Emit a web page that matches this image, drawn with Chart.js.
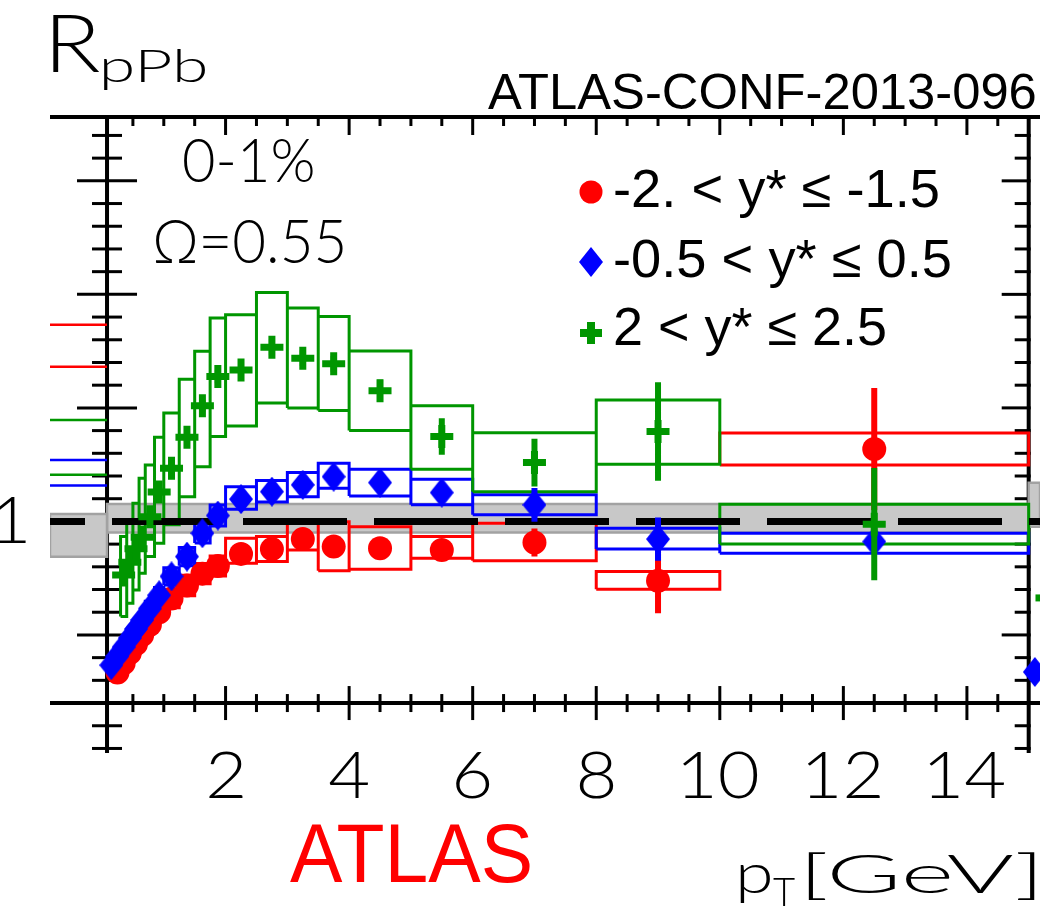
<!DOCTYPE html>
<html>
<head>
<meta charset="utf-8">
<script src="https://cdn.jsdelivr.net/npm/chart.js@4/dist/chart.umd.min.js"></script>
<style>
html,body{margin:0;padding:0;background:#fff;}
#wrap{position:relative;width:1040px;height:915px;}
canvas{display:block;}
</style>
</head>
<body>
<div id="wrap"><canvas id="c" width="1040" height="915"></canvas></div>
<script>
// ---------------- data ----------------
const binLo    = [0.1,0.2,0.3,0.4,0.5,0.6,0.7,0.85,1.0,1.25,1.5,1.75,2.0,2.5,3.0,3.5,4.0,5.0,6.0,8.0,10.0];
const binHi    = [0.2,0.3,0.4,0.5,0.6,0.7,0.85,1.0,1.25,1.5,1.75,2.0,2.5,3.0,3.5,4.0,5.0,6.0,8.0,10.0,15.0];
const ptCenter = [0.15,0.25,0.35,0.45,0.55,0.65,0.775,0.925,1.125,1.375,1.625,1.875,2.25,2.75,3.25,3.75,4.5,5.5,7,9,12.5];

// -2 < y* <= -1.5 (red circles)
const redVal   = [null,0.335,0.375,0.42,0.46,0.50,0.545,0.60,0.66,0.718,0.77,0.804,0.857,0.878,0.922,0.889,0.882,0.874,0.907,0.739,1.319];
const redStat  = [null,0.01,0.01,0.01,0.01,0.01,0.01,0.01,0.01,0.015,0.015,0.015,0.02,0.02,0.02,0.02,0.03,0.03,0.062,0.144,0.269];
const redSysLo = [null,0.30,0.34,0.385,0.425,0.465,0.51,0.565,0.62,0.673,0.725,0.76,0.816,0.823,0.874,0.783,0.789,0.838,0.827,0.701,1.249];
const redSysHi = [null,0.37,0.41,0.455,0.495,0.535,0.58,0.635,0.70,0.763,0.815,0.848,0.926,0.933,0.992,0.999,0.977,0.933,0.992,0.779,1.389];

// -0.5 < y* <= 0.5 (blue diamonds)
const blueVal   = [0.367,0.407,0.446,0.486,0.526,0.566,0.616,0.675,0.758,0.845,0.948,1.026,1.098,1.131,1.161,1.197,1.171,1.127,1.073,0.922,0.911];
const blueStat  = [0.01,0.01,0.01,0.01,0.01,0.01,0.01,0.01,0.01,0.015,0.015,0.015,0.02,0.02,0.02,0.02,0.02,0.03,0.074,0.095,0.045];
const blueSysLo = [0.34,0.38,0.418,0.457,0.496,0.535,0.584,0.641,0.72,0.805,0.905,0.98,1.054,1.085,1.109,1.146,1.112,1.073,1.029,0.878,0.86];
const blueSysHi = [0.394,0.434,0.474,0.515,0.556,0.597,0.648,0.709,0.796,0.885,0.991,1.072,1.153,1.18,1.215,1.256,1.23,1.186,1.117,0.97,0.948];

// 2 < y* <= 2.5 (green crosses)
const greenVal   = [null,null,0.764,0.82,0.88,0.93,1.02,1.13,1.234,1.371,1.509,1.638,1.667,1.767,1.719,1.694,1.576,1.374,1.259,1.396,0.988];
const greenStat  = [null,null,0.02,0.02,0.02,0.02,0.02,0.02,0.02,0.025,0.025,0.03,0.03,0.035,0.035,0.035,0.048,0.08,0.105,0.217,0.247];
const greenSysLo = [null,null,0.581,0.640,0.698,0.772,0.845,0.904,0.985,1.109,1.241,1.374,1.42,1.522,1.5,1.488,1.4,1.23,1.131,1.252,0.9];
const greenSysHi = [null,null,0.933,1.006,1.08,1.19,1.249,1.371,1.477,1.626,1.75,1.896,1.91,2.008,1.94,1.902,1.751,1.509,1.391,1.535,1.076];

// normalisation band and reference line
const bandX     = [0.081, 15.0];
const bandRange = [0.951, 1.077];
const refLine   = 1.0;

// pieces of the neighbouring panel that show at the figure edges
const ovLeftX       = [-0.842, 0.081];
const ovRedLevels   = [1.866, 1.681];
const ovGreenLevels = [1.447, 1.205];
const ovBlueLevels  = [1.271, 1.158];
const ovBandLeft    = [0.844, 1.033];
const ovRightX      = [15.0, 15.183];
const ovBandRight   = [0.976, 1.17];
const ovBlueX = [15.1],  ovBlueY = [0.337];
const ovGreenX = [15.11, 15.183], ovGreenY = [0.663];

// axes and ticks
const xRange = [-0.842, 15.183];
const yRange = [-0.02, 2.79];
const xAxisLeft = 0.081, xAxisRight = 15.0, yAxisBottom = 0.2;
const xMajorTicks = [2,4,6,8,10,12,14];
const xTickLabels = ['2','4','6','8','10','12','14'];
const xMinorTicks = [0.5,1,1.5,2.5,3,3.5,4.5,5,5.5,6.5,7,7.5,8.5,9,9.5,10.5,11,11.5,12.5,13,13.5,14.5];
const yMajorTicks = [0.5,1,1.5,2,2.5];
const yMinorTicks = [0,0.1,0.2,0.3,0.4,0.6,0.7,0.8,0.9,1.1,1.2,1.3,1.4,1.6,1.7,1.8,1.9,2.1,2.2,2.3,2.4,2.6,2.7];
const yLabelTicks = [1];
const yTickLabels = ['1'];

const legendLabels = ['-2. < y* \u2264 -1.5', '-0.5 < y* \u2264 0.5', '2 < y* \u2264 2.5'];
const RED = '#ff0000', BLUE = '#0000ff', GREEN = '#009600';

// ---------------- build datasets ----------------
function boxData(val, lo, hi) {
  const d = [];
  val.forEach((v, i) => {
    if (v == null) return;
    const a = binLo[i], b = binHi[i];
    d.push({x:a,y:lo[i]},{x:a,y:hi[i]},{x:b,y:hi[i]},{x:b,y:lo[i]},{x:a,y:lo[i]},{x:b,y:null});
  });
  return d;
}
function errData(val, err) {
  const d = [];
  val.forEach((v, i) => {
    if (v == null) return;
    d.push({x:ptCenter[i],y:v-err[i]},{x:ptCenter[i],y:v+err[i]},{x:ptCenter[i],y:null});
  });
  return d;
}
function ptData(val) {
  const d = [];
  val.forEach((v, i) => { if (v != null) d.push({x:ptCenter[i], y:v}); });
  return d;
}
function hSegs(xs, levels) {
  const d = [];
  levels.forEach(l => d.push({x:xs[0],y:l},{x:xs[1],y:l},{x:xs[1],y:null}));
  return d;
}
function rectPoly(xs, ys) {
  return [{x:xs[0],y:ys[0]},{x:xs[0],y:ys[1]},{x:xs[1],y:ys[1]},{x:xs[1],y:ys[0]},{x:xs[0],y:ys[0]}];
}
function makeDiamond(w, h, color) {
  const c = document.createElement('canvas');
  c.width = w; c.height = h;
  const g = c.getContext('2d');
  g.fillStyle = color;
  g.beginPath(); g.moveTo(w/2,0); g.lineTo(w,h/2); g.lineTo(w/2,h); g.lineTo(0,h/2); g.closePath(); g.fill();
  return c;
}
const diamond = makeDiamond(24, 30, BLUE);

const lineDs = (data, color, width, order, extra) => Object.assign({
  data, showLine: true, borderColor: color, borderWidth: width, pointRadius: 0, pointHoverRadius: 0,
  fill: false, tension: 0, spanGaps: false, borderJoinStyle: 'miter', order
}, extra || {});

const datasets = [
  // bands
  lineDs([{x:bandX[0],y:bandRange[1]},{x:bandX[1],y:bandRange[1]}], 'rgba(0,0,0,0)', 0, 100,
         {fill: {value: bandRange[0]}, backgroundColor: '#c8c8c8'}),
  lineDs(rectPoly(bandX, bandRange), '#a2a2a2', 2.5, 99),
  lineDs([{x:ovLeftX[0],y:ovBandLeft[1]},{x:ovLeftX[1],y:ovBandLeft[1]}], 'rgba(0,0,0,0)', 0, 98,
         {fill: {value: ovBandLeft[0]}, backgroundColor: '#c8c8c8'}),
  lineDs(rectPoly(ovLeftX, ovBandLeft), '#a2a2a2', 2.5, 97),
  lineDs([{x:ovRightX[0],y:ovBandRight[1]},{x:ovRightX[1],y:ovBandRight[1]}], 'rgba(0,0,0,0)', 0, 98,
         {fill: {value: ovBandRight[0]}, backgroundColor: '#c8c8c8'}),
  lineDs(rectPoly(ovRightX, ovBandRight), '#a2a2a2', 2.5, 97),
  // neighbouring-panel stubs
  lineDs(hSegs(ovLeftX, ovRedLevels), RED, 2.5, 90),
  lineDs(hSegs(ovLeftX, ovGreenLevels), GREEN, 2.5, 90),
  lineDs(hSegs(ovLeftX, ovBlueLevels), BLUE, 2.5, 90),
  lineDs([{x:ovGreenX[0],y:ovGreenY[0]},{x:ovGreenX[1],y:ovGreenY[0]}], GREEN, 7, 90),
  {data: ovBlueX.map((x,i)=>({x, y: ovBlueY[i]})), pointStyle: diamond, pointRadius: 12, order: 90},
  // systematic boxes
  lineDs(boxData(redVal, redSysLo, redSysHi), RED, 3, 60),
  lineDs(boxData(blueVal, blueSysLo, blueSysHi), BLUE, 3, 59),
  lineDs(boxData(greenVal, greenSysLo, greenSysHi), GREEN, 3, 58),
  // reference line
  lineDs([{x:xRange[0],y:refLine},{x:xRange[1],y:refLine}], '#000', 7, 50,
         {borderDash: [104, 27], borderDashOffset: 69, borderCapStyle: 'butt'}),
  // red
  lineDs(errData(redVal, redStat), RED, 6, 30),
  {data: ptData(redVal), pointStyle: 'circle', pointRadius: 12, backgroundColor: RED, borderWidth: 0, order: 29},
  // blue
  lineDs(errData(blueVal, blueStat), BLUE, 6, 28),
  {data: ptData(blueVal), pointStyle: diamond, pointRadius: 12, order: 27},
  // green
  lineDs(errData(greenVal, greenStat), GREEN, 6, 26),
  {data: ptData(greenVal), pointStyle: 'cross', pointRadius: 11.5, borderColor: GREEN, borderWidth: 7, order: 25}
];

// ---------------- axes drawn from the scales ----------------
const axesPlugin = {
  id: 'frameAxes',
  beforeDatasetsDraw(chart) {
    const {ctx, chartArea, scales: {x, y}} = chart;
    const X = v => x.getPixelForValue(v), Y = v => y.getPixelForValue(v);
    ctx.save();
    ctx.strokeStyle = '#000';
    ctx.lineCap = 'butt';
    const seg = (x1,y1,x2,y2,w) => { ctx.lineWidth = w; ctx.beginPath(); ctx.moveTo(x1,y1); ctx.lineTo(x2,y2); ctx.stroke(); };
    const top = Y(yRange[1]) + 2, bot = Y(yRange[0]);
    const xl = X(xAxisLeft), xr = X(xAxisRight), yb = Y(yAxisBottom);
    seg(chartArea.left, top, chartArea.right, top, 4);
    seg(chartArea.left, yb, chartArea.right, yb, 4);
    seg(xl, top - 2, xl, bot, 4);
    seg(xr, top - 2, xr, bot, 4);
    xMinorTicks.forEach(v => { const p = X(v); seg(p, yb-9, p, yb+9, 3); seg(p, top, p, top+9, 3); });
    xMajorTicks.forEach(v => { const p = X(v); seg(p, yb-17, p, yb+17, 3); seg(p, top, p, top+18, 3); });
    yMinorTicks.forEach(v => { const p = Y(v); seg(xl-15, p, xl+15, p, 3); seg(xr-14, p, xr+2, p, 3); });
    yMajorTicks.forEach(v => { const p = Y(v); seg(xl-30, p, xl+30, p, 3); seg(xr-27, p, xr+2, p, 3); });
    ctx.restore();
  }
};

function inkText(ctx, text, x0, baseline, font, color, inkWidth) {
  ctx.save();
  ctx.font = font; ctx.fillStyle = color; ctx.textAlign = 'left'; ctx.textBaseline = 'alphabetic';
  const m = ctx.measureText(text);
  const w = m.actualBoundingBoxLeft + m.actualBoundingBoxRight;
  const s = inkWidth ? inkWidth / w : 1;
  ctx.translate(x0, baseline); ctx.scale(s, 1);
  ctx.fillText(text, m.actualBoundingBoxLeft, 0);
  ctx.restore();
}

const THIN = '300 66px Lato, "DejaVu Sans", sans-serif';
const textPlugin = {
  id: 'texts',
  afterDraw(chart) {
    const {ctx, scales: {x, y}} = chart;
    ctx.save(); ctx.font = THIN;
    const m2 = ctx.measureText('2');
    const sc = 34 / (m2.actualBoundingBoxLeft + m2.actualBoundingBoxRight);
    ctx.restore();
    const labelAt = (t, cx, base) => {
      ctx.save(); ctx.font = THIN;
      const m = ctx.measureText(t);
      const w = (m.actualBoundingBoxLeft + m.actualBoundingBoxRight) * sc;
      ctx.restore();
      inkText(ctx, t, cx - w/2, base, THIN, '#000', w);
    };
    xMajorTicks.forEach((v, i) => labelAt(xTickLabels[i], x.getPixelForValue(v), 798));
    yLabelTicks.forEach((v, i) => labelAt(yTickLabels[i], 11, y.getPixelForValue(v) + 22));

    inkText(ctx, 'R', 53, 72, '300 80px Lato, sans-serif', '#000', 47);
    inkText(ctx, 'pPb', 103, 82, '300 46px Lato, sans-serif', '#000', 102);
    inkText(ctx, 'ATLAS-CONF-2013-096', 488, 109, '50px "Liberation Sans", Arial, sans-serif', '#000', 547);
    inkText(ctx, '0-1%', 184, 182, '300 61px Lato, sans-serif', '#000', 129);
    inkText(ctx, '\u03A9=0.55', 155, 263, '300 61px Lato, sans-serif', '#000', 188);
    inkText(ctx, 'ATLAS', 290, 882, '83px "Liberation Sans", Arial, sans-serif', RED, 240);
    inkText(ctx, 'p', 740, 893, '300 56px Lato, sans-serif', '#000', 30);
    inkText(ctx, 'T', 773, 906, '300 40px Lato, sans-serif', '#000', 22);
    inkText(ctx, '[GeV]', 808, 893, '300 54px Lato, sans-serif', '#000', 227);

    const LF = '54px "Liberation Sans", Arial, sans-serif';
    const rows = [192, 262, 333], bases = [207, 277, 345], widths = [323, 335, 270];
    legendLabels.forEach((t, i) => inkText(ctx, t, 615, bases[i], LF, '#000', widths[i]));
    ctx.save();
    ctx.fillStyle = RED; ctx.beginPath(); ctx.arc(591, rows[0], 11.5, 0, Math.PI*2); ctx.fill();
    ctx.drawImage(diamond, 591 - 12, rows[1] - 15);
    ctx.fillStyle = GREEN;
    ctx.fillRect(580, rows[2] - 4, 22, 8); ctx.fillRect(587, rows[2] - 11, 8, 22);
    ctx.restore();
  }
};

new Chart(document.getElementById('c'), {
  type: 'scatter',
  data: { datasets },
  options: {
    responsive: false, animation: false, devicePixelRatio: 1, events: [],
    layout: { autoPadding: false, padding: { left: 50, right: 0, top: 115, bottom: 162 } },
    scales: {
      x: { type: 'linear', min: xRange[0], max: xRange[1], display: false },
      y: { type: 'linear', min: yRange[0], max: yRange[1], display: false }
    },
    plugins: { legend: { display: false }, tooltip: { enabled: false } }
  },
  plugins: [axesPlugin, textPlugin]
});
</script>
</body>
</html>
